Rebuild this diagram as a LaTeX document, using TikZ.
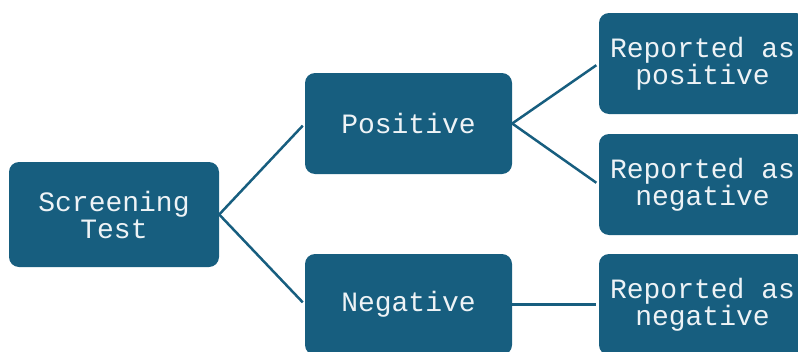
\documentclass[tikz,border=0pt]{standalone}
\usepackage{fontspec}
\setmonofont{Liberation Mono}
\definecolor{boxblue}{HTML}{175E7F}
\definecolor{boxtext}{HTML}{EEF3F6}
\tikzset{
  box/.style={fill=boxblue, rounded corners=10pt, text=boxtext, align=center,
    font=\ttfamily\fontsize{28}{27}\selectfont, minimum width=207pt,
    minimum height=101pt, inner sep=0pt},
  link/.style={draw=boxblue, line width=2.5pt, shorten >=3pt},
}

\begin{document}
\begin{tikzpicture}[x=1pt,y=-1pt]
    \clip (0,0) rectangle (798,351);
    \node[box, minimum width=210pt, minimum height=105pt] (screen) at (114,214.5) {Screening\\Test};
    \node[box] (pos) at (408.5,123.5) {Positive};
    \node[box] (neg) at (408.5,304.5) {Negative};
    \node[box] (rpos) at (702.5,63.5) {Reported as\\positive};
    \node[box] (rnegA) at (702.5,184.5) {Reported as\\negative};
    \node[box] (rnegB) at (702.5,304.5) {Reported as\\negative};
    \draw[link] (screen.east) -- (pos.west);
    \draw[link] (screen.east) -- (neg.west);
    \draw[link] (pos.east) -- (rpos.west);
    \draw[link] (pos.east) -- (rnegA.west);
    % \draw[link] (neg.east) -- (rnegA.west);
    \draw[link] (neg.east) -- (rnegB.west);
\end{tikzpicture}
\end{document}
